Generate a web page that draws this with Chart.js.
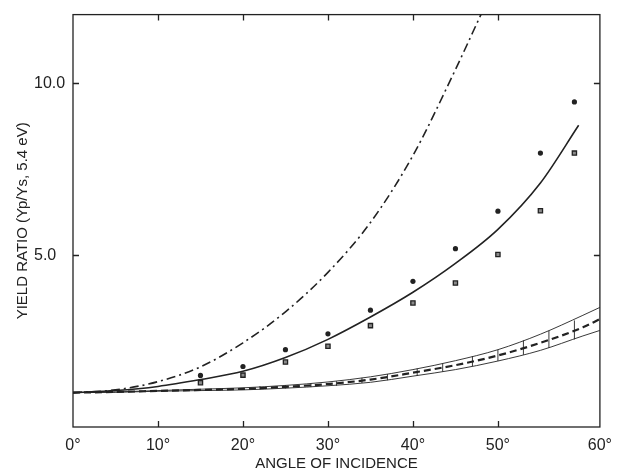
<!DOCTYPE html>
<html>
<head>
<meta charset="utf-8">
<script src="https://cdn.jsdelivr.net/npm/chart.js@4/dist/chart.umd.min.js"></script>
<style>
  body { margin: 0; background: #fff; }
  canvas { display: block; }
</style>
</head>
<body>
<canvas id="yieldChart" width="621" height="476"></canvas>
<script>
// Values (angle in degrees, yield ratio Yp/Ys)
const curveAngles = [0, 5, 10, 15, 20, 25, 30, 35, 40, 45, 50, 55, 59.5];
const dashDotAngles = [0, 5, 10, 15, 20, 25, 30, 35, 40, 45, 48];
const dashDotVals = [1.0, 1.08, 1.32, 1.75, 2.45, 3.35, 4.5, 5.95, 7.9, 10.4, 12.0];
const solidVals = [1.0, 1.06, 1.18, 1.38, 1.62, 2.02, 2.55, 3.2, 3.92, 4.76, 5.75, 7.1, 8.78];

const bandAngles = [0, 5, 10, 15, 20, 25, 30, 35, 40, 45, 50, 55, 60, 62];
const dashedVals = [1.0, 1.02, 1.05, 1.08, 1.11, 1.17, 1.25, 1.38, 1.58, 1.80, 2.08, 2.45, 2.90, 3.14];
const upperVals = [1.0, 1.02, 1.06, 1.10, 1.14, 1.21, 1.31, 1.46, 1.67, 1.93, 2.25, 2.70, 3.25, 3.48];
const lowerVals = [1.0, 1.01, 1.04, 1.06, 1.08, 1.13, 1.20, 1.30, 1.48, 1.67, 1.92, 2.23, 2.65, 2.81];

const errAngles = [22, 25, 28, 31, 34, 37, 40.5, 43.5, 47, 50, 53, 56, 59];
const errLow = [1.09, 1.12, 1.16, 1.20, 1.28, 1.36, 1.49, 1.61, 1.77, 1.92, 2.10, 2.30, 2.55];
const errHigh = [1.19, 1.22, 1.27, 1.33, 1.43, 1.54, 1.70, 1.85, 2.06, 2.25, 2.52, 2.80, 3.10];

const pointAngles = [15, 20, 25, 30, 35, 40, 45, 50, 55, 59];
const circleVals = [1.50, 1.76, 2.25, 2.71, 3.40, 4.24, 5.19, 6.28, 7.97, 9.46];
const squareVals = [1.29, 1.51, 1.89, 2.35, 2.95, 3.61, 4.19, 5.02, 6.29, 7.97];

// x axis runs a little past 60 in the original drawing; the edge is labelled 60°
const xTicks = [0, 10, 20, 30, 40, 50, 62];
const xTickLabels = ['0°', '10°', '20°', '30°', '40°', '50°', '60°'];
const xMarks = [10, 20, 30, 40, 50];
const yTicks = [5, 10];

const ink = '#222';

function pairs(xs, ys) {
    return xs.map((x, i) => ({ x: x, y: ys[i] }));
}

// vertical error bars, separated by null gaps
const errData = [];
errAngles.forEach((a, i) => {
    errData.push({ x: a, y: errLow[i] }, { x: a, y: errHigh[i] }, { x: a, y: null });
});

// frame and inward tick marks like the printed figure
const framePlugin = {
    id: 'frame',
    afterDatasetsDraw(chart) {
        const { ctx, chartArea: a, scales } = chart;
        const x = scales.x, y = scales.y;
        ctx.save();
        ctx.strokeStyle = ink;
        ctx.lineWidth = 1.3;
        ctx.strokeRect(a.left, a.top, a.width, a.height);
        ctx.beginPath();
        xMarks.forEach(v => {
            const px = Math.round(x.getPixelForValue(v)) + 0.5;
            ctx.moveTo(px, a.bottom); ctx.lineTo(px, a.bottom - 6);
            ctx.moveTo(px, a.top); ctx.lineTo(px, a.top + 6);
        });
        yTicks.forEach(v => {
            const py = Math.round(y.getPixelForValue(v)) + 0.5;
            ctx.moveTo(a.left, py); ctx.lineTo(a.left + 6, py);
            ctx.moveTo(a.right, py); ctx.lineTo(a.right - 6, py);
        });
        ctx.stroke();
        ctx.restore();
    }
};

Chart.defaults.font.family = "'Liberation Sans', Arial, sans-serif";
Chart.defaults.color = ink;

const ctx = document.getElementById('yieldChart').getContext('2d');
new Chart(ctx, {
    type: 'line',
    data: {
        datasets: [
            {
                label: 'dash-dot',
                data: pairs(dashDotAngles, dashDotVals),
                borderColor: ink,
                borderWidth: 1.6,
                borderDash: [9, 4, 2, 4],
                pointRadius: 0,
                cubicInterpolationMode: 'monotone',
                clip: 0
            },
            {
                label: 'solid',
                data: pairs(curveAngles, solidVals),
                borderColor: ink,
                borderWidth: 1.6,
                pointRadius: 0,
                cubicInterpolationMode: 'monotone'
            },
            {
                label: 'dashed',
                data: pairs(bandAngles, dashedVals),
                borderColor: ink,
                borderWidth: 2.2,
                borderDash: [7, 4],
                pointRadius: 0,
                cubicInterpolationMode: 'monotone'
            },
            {
                label: 'upper',
                data: pairs(bandAngles, upperVals),
                borderColor: ink,
                borderWidth: 0.9,
                pointRadius: 0,
                cubicInterpolationMode: 'monotone'
            },
            {
                label: 'lower',
                data: pairs(bandAngles, lowerVals),
                borderColor: ink,
                borderWidth: 0.9,
                pointRadius: 0,
                cubicInterpolationMode: 'monotone'
            },
            {
                label: 'error bars',
                data: errData,
                borderColor: ink,
                borderWidth: 0.9,
                pointRadius: 0,
                spanGaps: false,
                tension: 0
            },
            {
                label: 'circles',
                data: pairs(pointAngles, circleVals),
                showLine: false,
                pointStyle: 'circle',
                pointRadius: 2.6,
                pointBackgroundColor: ink,
                pointBorderColor: ink,
                pointBorderWidth: 0
            },
            {
                label: 'squares',
                data: pairs(pointAngles, squareVals),
                showLine: false,
                pointStyle: 'rect',
                pointRadius: 3,
                pointBackgroundColor: '#8a8a8a',
                pointBorderColor: ink,
                pointBorderWidth: 1.3
            }
        ]
    },
    options: {
        responsive: false,
        animation: false,
        layout: { padding: { top: 9, right: 19, left: 0, bottom: 0 } },
        plugins: {
            legend: { display: false },
            tooltip: { enabled: false }
        },
        scales: {
            x: {
                type: 'linear',
                min: 0,
                max: 62,
                afterBuildTicks: s => { s.ticks = xTicks.map(v => ({ value: v })); },
                afterFit: s => { s.height = 49; },
                grid: { display: false, drawTicks: false },
                border: { display: false },
                ticks: {
                    padding: 9,
                    maxRotation: 0,
                    autoSkip: false,
                    font: { size: 16 },
                    callback: (v, i) => xTickLabels[i]
                },
                title: {
                    display: true,
                    text: 'ANGLE OF INCIDENCE',
                    font: { size: 15 },
                    padding: { top: 0, bottom: 3 }
                }
            },
            y: {
                type: 'linear',
                min: 0,
                max: 12,
                weight: 0,
                afterBuildTicks: s => { s.ticks = yTicks.map(v => ({ value: v })); },
                afterFit: s => { s.width = 39; },
                grid: { display: false, drawTicks: false },
                border: { display: false },
                ticks: {
                    crossAlign: 'far',
                    padding: 5,
                    font: { size: 16 },
                    callback: v => v.toFixed(1)
                }
            },
            yTitle: {
                type: 'linear',
                position: 'left',
                weight: 1,
                min: 0,
                max: 12,
                afterFit: s => { s.width = 34; },
                grid: { display: false, drawTicks: false },
                border: { display: false },
                ticks: { display: false },
                title: {
                    display: true,
                    text: 'YIELD RATIO (Yp/Ys, 5.4 eV)',
                    font: { size: 15 },
                    padding: { top: 14, bottom: 0 }
                }
            }
        }
    },
    plugins: [framePlugin]
});
</script>
</body>
</html>
